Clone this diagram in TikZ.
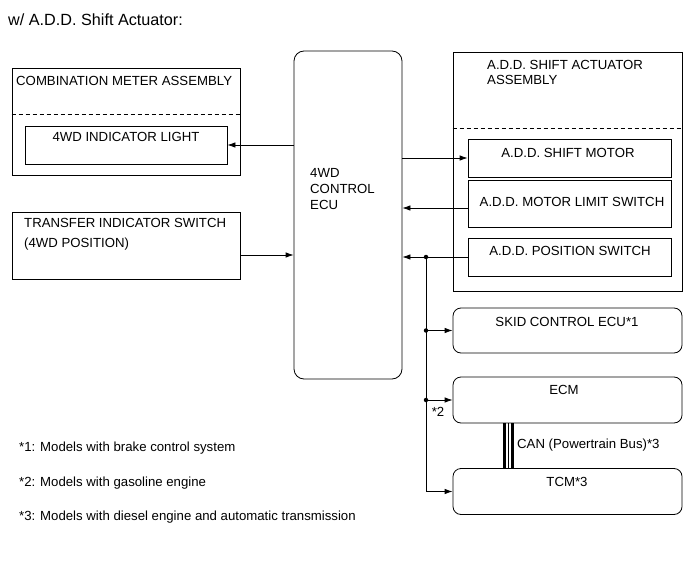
\documentclass[tikz,border=0pt]{standalone}
\usepackage{fontspec}
\setmainfont{Liberation Sans}
\usepackage{tikz}
\usetikzlibrary{arrows.meta,positioning,calc}

\begin{document}
\begin{tikzpicture}[
    x=1pt, y=-1pt,
    box/.style={draw, line width=0.8pt, inner sep=0pt},
    rbox/.style={box, rounded corners=8pt},
    label/.style={font=\fontsize{13.2}{15}\selectfont, inner sep=0pt},
    link/.style={-{Latex[length=8pt,width=5.5pt]}, line width=0.8pt},
    joint/.style={circle, fill, inner sep=0pt, minimum size=4.5pt},
    sep/.style={line width=0.8pt, dash pattern=on 4pt off 3pt}
]
    \useasboundingbox (0,0) rectangle (690,564);

    % Title
    \node[label, anchor=west, font=\fontsize{16.2}{18}\selectfont] (title) at (8,20) {w/ A.D.D. Shift Actuator:};

    % Combination meter (left top)
    \node[box, minimum width=228pt, minimum height=107pt] (meter) at (126,121.5) {};
    \node[label, anchor=west] (metertxt) at (16,81) {COMBINATION METER ASSEMBLY};
    \draw[sep] (meter.west |- 0,114) -- (meter.east |- 0,114);
    \node[box, minimum width=202pt, minimum height=38pt] (light) at (126,145) {};
    \node[label] (lighttxt) at (126,137) {4WD INDICATOR LIGHT};

    % Transfer indicator switch (left bottom)
    \node[box, minimum width=228pt, minimum height=67pt] (transfer) at (126,245.5) {};
    \node[label, anchor=north west, align=left, font=\fontsize{13.2}{20}\selectfont] (transfertxt) at (24,218.3)
        {TRANSFER INDICATOR SWITCH\\(4WD POSITION)};

    % 4WD control ECU (middle)
    \node[box, rounded corners=10pt, minimum width=108pt, minimum height=328pt] (ecu) at (348,215) {};
    \node[label, anchor=north west, align=left, font=\fontsize{13.2}{16}\selectfont] (ecutxt) at (310,168.3)
        {4WD\\CONTROL\\ECU};

    % A.D.D. shift actuator assembly (right top)
    \node[box, minimum width=229pt, minimum height=239pt] (act) at (567.5,171.5) {};
    \node[label, anchor=north west, align=left, font=\fontsize{13.2}{15}\selectfont] (acttxt) at (487,60.3)
        {A.D.D. SHIFT ACTUATOR\\ASSEMBLY};
    \draw[sep] (act.west |- 0,128) -- (act.east |- 0,128);
    \node[box, minimum width=203pt, minimum height=38pt] (motor) at (569.5,158) {};
    \node[label] (motortxt) at (568,153) {A.D.D. SHIFT MOTOR};
    \node[box, minimum width=203pt, minimum height=47pt] (limit) at (569.5,203.5) {};
    \node[label] (limittxt) at (572,202) {A.D.D. MOTOR LIMIT SWITCH};
    \node[box, minimum width=203pt, minimum height=38pt] (position) at (569.5,257) {};
    \node[label] (positiontxt) at (570,251) {A.D.D. POSITION SWITCH};

    % Other ECUs (right bottom)
    \node[rbox, minimum width=229pt, minimum height=45pt] (skid) at (567.5,330.5) {};
    \node[label] (skidtxt) at (567,322) {SKID CONTROL ECU*1};
    \node[rbox, minimum width=229pt, minimum height=46pt] (ecm) at (567.5,400) {};
    \node[label] (ecmtxt) at (564,390) {ECM};
    \node[rbox, minimum width=229pt, minimum height=46pt] (tcm) at (567.5,491.5) {};
    \node[label] (tcmtxt) at (567,482) {TCM*3};

    % Signal lines
    \draw[link] (ecu.west |- light.east) -- (light.east);
    \draw[link] ([yshift=-9.5pt]transfer.east) -- ([yshift=-9.5pt]transfer.east -| ecu.west);
    \draw[link] (ecu.east |- motor.west) -- (motor.west);
    \draw[link] ([yshift=-4.5pt]limit.west) -- ([yshift=-4.5pt]limit.west -| ecu.east);
    \draw[link] (position.west) -- (position.west -| ecu.east);

    % Bus to other ECUs
    \coordinate (bustop) at (426,257);
    \draw[line width=0.8pt] (bustop) -- (bustop |- tcm.west);
    \draw[link] (bustop |- skid.west) -- (skid.west);
    \draw[link] (bustop |- ecm.west) -- (ecm.west);
    \draw[link] (bustop |- tcm.west) -- (tcm.west);
    \node[joint] (j1) at (bustop) {};
    \node[joint] (j2) at (bustop |- skid.west) {};
    \node[joint] (j3) at (bustop |- ecm.west) {};
    \node[label] (star2) at (438,412) {*2};

    % CAN line between ECM and TCM
    \draw[line width=3pt] (504.5,0 |- ecm.south) -- (504.5,0 |- tcm.north);
    \draw[line width=1pt] (508.5,0 |- ecm.south) -- (508.5,0 |- tcm.north);
    \draw[line width=3pt] (512.5,0 |- ecm.south) -- (512.5,0 |- tcm.north);
    \node[label, anchor=west] (cantxt) at (517,445) {CAN (Powertrain Bus)*3};

    % Notes
    \node[label, anchor=west] (note1) at (19,448) {*1: Models with brake control system};
    \node[label, anchor=west] (note2) at (19,483) {*2: Models with gasoline engine};
    \node[label, anchor=west] (note3) at (19,517) {*3: Models with diesel engine and automatic transmission};
\end{tikzpicture}
\end{document}
